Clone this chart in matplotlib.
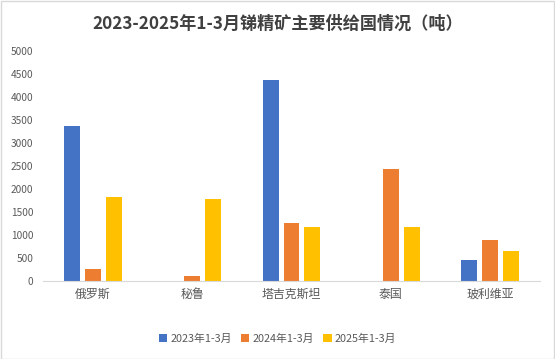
import numpy as np
import matplotlib
matplotlib.use("Agg")
import matplotlib.pyplot as plt

plt.rcParams['font.family'] = ['Noto Sans CJK SC', 'DejaVu Sans']

countries = ["俄罗斯", "秘鲁", "塔吉克斯坦", "泰国", "玻利维亚"]
series_names = ["2023年1-3月", "2024年1-3月", "2025年1-3月"]
v2023 = [3370, 0, 4370, 0, 455]
v2024 = [260, 110, 1260, 2435, 890]
v2025 = [1835, 1780, 1180, 1175, 650]
colors = ["#4472C4", "#ED7D31", "#FFC000"]

fig = plt.figure(figsize=(5.55, 3.59), dpi=100)
ax = fig.add_axes([43 / 555, 1 - 281 / 359, 497 / 555, 230 / 359])

x = np.arange(len(countries))
width = 0.16
step = 0.21
for i, (vals, name) in enumerate(zip([v2023, v2024, v2025], series_names)):
    ax.bar(x + (i - 1) * step, vals, width, color=colors[i], label=name)

ax.set_xlim(-0.5, len(countries) - 0.5)
ax.set_ylim(0, 5000)
ax.set_yticks(range(0, 5001, 500))
ax.set_xticks(x)
ax.set_xticklabels(countries, fontsize=8.6, color="#595959")
ax.tick_params(axis="y", labelsize=7.3, labelcolor="#595959", length=0, pad=7)
ax.tick_params(axis="x", length=0, pad=5)
for s in ["top", "right", "left"]:
    ax.spines[s].set_visible(False)
ax.spines["bottom"].set_color("#D9D9D9")

fig.suptitle("2023-2025年1-3月锑精矿主要供给国情况（吨）", y=0.96, fontsize=12.3,
             fontweight="bold", color="#404040")

fig.legend(loc="center", bbox_to_anchor=(0.5, 1 - 339 / 359), ncol=3, frameon=False,
           fontsize=7.8, labelcolor="#595959", handlelength=0.8, handleheight=0.8,
           handletextpad=0.3, columnspacing=0.8)

fig.patches.append(plt.Rectangle((0.001, 0.001), 0.997, 0.997, transform=fig.transFigure,
                                 fill=False, edgecolor="#D9D9D9", linewidth=1))

fig.savefig("out.png", dpi=100)
